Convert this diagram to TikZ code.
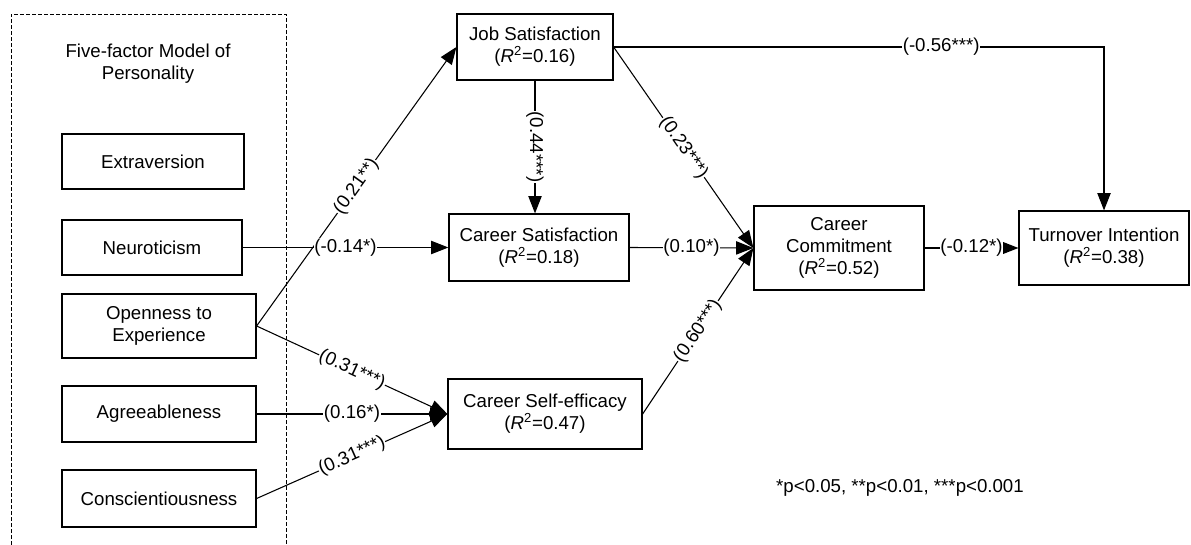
\documentclass[tikz,border=0pt]{standalone}
\usepackage{fontspec}
\setmainfont{Liberation Sans}
\usetikzlibrary{arrows.meta}
\begin{document}
\begin{tikzpicture}[x=0.75pt,y=-0.75pt,
  every node/.style={font=\fontsize{14}{16.5}\selectfont},
  box/.style 2 args={draw, line width=0.9pt, inner sep=0pt, align=center,
    minimum width={#1*0.75pt}, minimum height={#2*0.75pt}},
  path/.style={line width=0.8pt, -{Triangle[length=13pt,width=10pt]}},
  lbl/.style={fill=white, inner sep=0.6pt, pos=0.5}]
\useasboundingbox (0,0) rectangle (1191,545);
% dashed grouping frame
\draw[line width=0.6pt, dash pattern=on 3pt off 1.5pt] (11,545) -- (11,14) -- (286,14) -- (286,545);
\node[align=center] (title) at (148,64) {Five-factor Model of\\Personality};
% personality boxes
\node[box={182}{55}] (ext) at (153,161.5) {Extraversion};
\node[box={180}{55}] (neu) at (152,247.5) {Neuroticism};
\node[box={194}{64}] (ope) at (159,326) {Openness to\\Experience};
\node[box={194}{56}] (agr) at (159,414) {Agreeableness};
\node[box={194}{57}] (con) at (159,498.5) {Conscientiousness};
% outcome boxes
\node[box={156}{66}] (js) at (535,47) {Job Satisfaction\\(\textit{R}\textsuperscript{2}=0.16)};
\node[box={180}{67}] (cs) at (539,247.5) {Career Satisfaction\\(\textit{R}\textsuperscript{2}=0.18)};
\node[box={194}{70}] (cse) at (545,414) {Career Self-efficacy\\(\textit{R}\textsuperscript{2}=0.47)};
\node[box={170}{84}] (cc) at (839,248) {Career\\Commitment\\(\textit{R}\textsuperscript{2}=0.52)};
\node[box={170}{74}] (ti) at (1104,248) {Turnover Intention\\(\textit{R}\textsuperscript{2}=0.38)};
\node (note) at (900,488) {*p<0.05, **p<0.01, ***p<0.001};
% paths
\draw[path] (ope.east) -- node[lbl, sloped] {(0.21**)} (js.west);
\draw[path] (neu.east) -- node[lbl] {(-0.14*)} (cs.west);
\draw[path] (ope.east) -- node[lbl, sloped] {(0.31***)} (cse.west);
\draw[path] (agr.east) -- node[lbl] {(0.16*)} (cse.west);
\draw[path] (con.east) -- node[lbl, sloped] {(0.31***)} (cse.west);
\draw[path] (js.south) -- node[lbl, rotate=-90] {(0.44***)} (js.south |- cs.north);
\draw[path] (js.east) -- node[lbl, sloped] {(0.23***)} (cc.west);
\draw[path] (cs.east) -- node[lbl] {(0.10*)} (cc.west);
\draw[path] (cse.east) -- node[lbl, sloped] {(0.60***)} (cc.west);
\draw[path] (cc.east) -- node[lbl] {(-0.12*)} (ti.west);
\draw[path] (js.east) -| node[lbl, pos=0.334] {(-0.56***)} (ti.north);
\end{tikzpicture}
\end{document}
